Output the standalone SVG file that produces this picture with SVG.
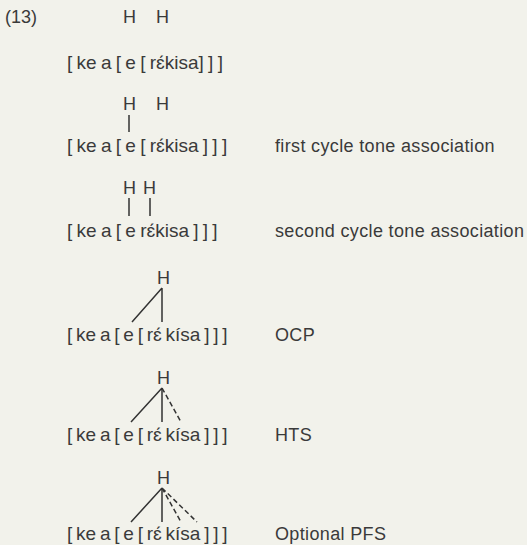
<svg xmlns="http://www.w3.org/2000/svg" width="527" height="545" viewBox="0 0 527 545">
<style>
text{font-family:"Liberation Sans",Arial,sans-serif;font-size:18px;fill:#3a3a3a}
.b{font-size:19px;word-spacing:-1px}
.b2{font-size:19px;word-spacing:-1.5px}
.lab{letter-spacing:0.35px}
.l{stroke:#333;stroke-width:1.5;fill:none}
.d{stroke-dasharray:5,3}
</style>
<rect width="527" height="545" fill="#f2f2eb"/>
<g id="ex"><text x="5" y="23">(13)</text></g>
<g id="row1">
<text x="123" y="23">H</text><text x="156" y="23">H</text>
<text class="b" x="67" y="69" xml:space="preserve">[ ke a [ e [ rɛ́kisa] ] ]</text>
</g>
<g id="row2">
<text x="123" y="110">H</text><text x="156" y="110">H</text>
<text class="b" x="67" y="152" xml:space="preserve">[ ke a [ e [ rɛ́kisa ] ] ]</text>
<text class="lab" x="275" y="152">first cycle tone association</text>
</g>
<g id="row3">
<text x="123" y="194">H</text><text x="143" y="194">H</text>
<text class="b" x="67" y="237" xml:space="preserve">[ ke a [ e rɛ́kisa ] ] ]</text>
<text class="lab" x="275" y="237">second cycle tone association</text>
</g>
<g id="row4">
<text x="157" y="284">H</text>
<text class="b2" x="67" y="341" xml:space="preserve">[ ke a [ e [ rɛ́ kísa ] ] ]</text>
<text class="lab" x="275" y="341">OCP</text>
</g>
<g id="row5">
<text x="157" y="384">H</text>
<text class="b2" x="67" y="441" xml:space="preserve">[ ke a [ e [ rɛ́ kísa ] ] ]</text>
<text class="lab" x="275" y="441">HTS</text>
</g>
<g id="row6">
<text x="157" y="484">H</text>
<text class="b2" x="67" y="540" xml:space="preserve">[ ke a [ e [ rɛ́ kísa ] ] ]</text>
<text class="lab" x="275" y="540">Optional PFS</text>
</g>
<g id="connectors">
<path class="l" d="M129 115V132"/>
<path class="l" d="M129 198V216M150 198V216"/>
<path class="l" d="M162 288L132 322M162 288V322"/>
<path class="l" d="M162 388L131 422M162 388V422"/>
<path class="l d" d="M162 388L181 422"/>
<path class="l" d="M162 488L131 522M162 488V522"/>
<path class="l d" d="M162 488L181 522M162 488L197 522"/>
</g>
</svg>
